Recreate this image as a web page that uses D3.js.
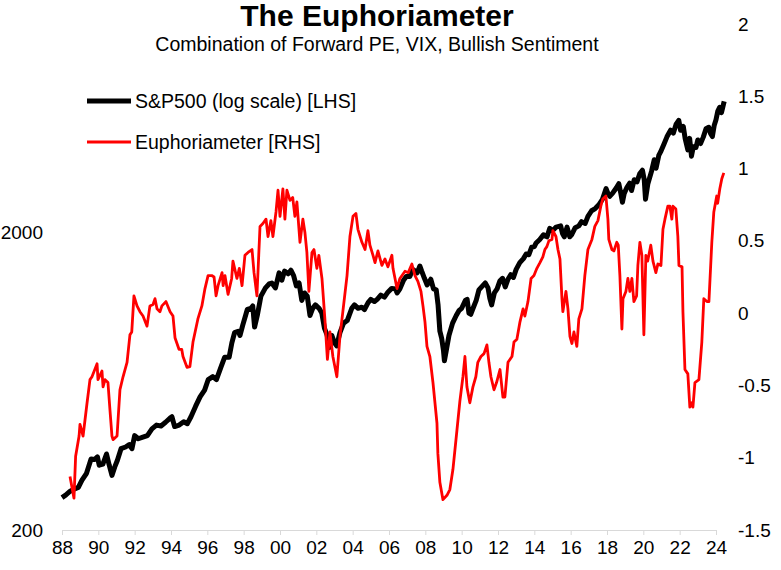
<!DOCTYPE html>
<meta charset="utf-8">
<style>
body { margin: 0; background: #fff; }
svg { font-family: "Liberation Sans", Arial, sans-serif; }
.axis text { font-size: 19px; fill: #000; }
</style>
<svg width="781" height="570"></svg>
<script src="https://cdn.jsdelivr.net/npm/d3@7"></script>
<script>
// S&P500 monthly-ish levels, [year, level] (left, log)
var spx = [
  [1988.0,257],[1988.2,262],[1988.45,270],[1988.7,275],[1988.9,278],[1989.1,294],[1989.35,310],[1989.6,346],
  [1989.8,345],[1989.95,352],[1990.05,330],[1990.25,333],[1990.45,360],[1990.6,330],[1990.75,305],[1990.9,325],
  [1991.05,343],[1991.25,375],[1991.5,380],[1991.7,387],[1991.85,375],[1992.0,415],[1992.2,405],[1992.45,410],
  [1992.7,415],[1992.95,437],[1993.2,450],[1993.45,447],[1993.7,460],[1993.95,475],[1994.05,480],[1994.2,445],
  [1994.45,450],[1994.7,462],[1994.9,455],[1995.1,480],[1995.35,520],[1995.6,560],[1995.85,590],[1996.05,640],
  [1996.3,655],[1996.5,640],[1996.75,705],[1996.95,760],[1997.2,760],[1997.35,850],[1997.5,920],[1997.7,930],
  [1997.8,900],[1997.95,975],[1998.2,1100],[1998.4,1110],[1998.5,1130],[1998.6,960],[1998.75,1050],[1998.95,1220],
  [1999.2,1300],[1999.4,1340],[1999.55,1350],[1999.75,1300],[1999.95,1460],[2000.1,1380],[2000.25,1480],[2000.45,1450],
  [2000.6,1490],[2000.75,1430],[2000.9,1320],[2001.05,1350],[2001.2,1180],[2001.35,1250],[2001.5,1220],[2001.65,1050],
  [2001.8,1110],[2001.95,1140],[2002.15,1110],[2002.3,1070],[2002.45,950],[2002.6,900],[2002.72,820],[2002.85,900],
  [2003.0,850],[2003.12,830],[2003.3,920],[2003.5,990],[2003.7,1010],[2003.95,1110],[2004.1,1140],[2004.3,1110],
  [2004.5,1120],[2004.65,1100],[2004.85,1160],[2005.0,1190],[2005.2,1170],[2005.35,1190],[2005.55,1230],[2005.75,1210],
  [2005.95,1260],[2006.15,1295],[2006.35,1290],[2006.45,1250],[2006.6,1290],[2006.8,1380],[2006.95,1420],[2007.15,1420],
  [2007.3,1500],[2007.45,1480],[2007.55,1460],[2007.7,1540],[2007.8,1480],[2007.95,1400],[2008.1,1330],[2008.3,1390],
  [2008.45,1290],[2008.6,1280],[2008.7,1140],[2008.8,930],[2008.9,880],[2009.0,800],[2009.05,740],[2009.15,800],
  [2009.3,900],[2009.5,990],[2009.7,1050],[2009.85,1090],[2010.0,1110],[2010.2,1180],[2010.3,1190],[2010.4,1070],
  [2010.5,1060],[2010.6,1100],[2010.8,1180],[2010.95,1280],[2011.15,1320],[2011.3,1350],[2011.45,1300],[2011.55,1200],
  [2011.65,1140],[2011.8,1250],[2011.95,1290],[2012.1,1370],[2012.25,1400],[2012.4,1310],[2012.55,1390],[2012.7,1440],
  [2012.85,1410],[2013.0,1500],[2013.2,1580],[2013.4,1630],[2013.55,1690],[2013.7,1680],[2013.85,1780],[2014.0,1790],
  [2014.1,1840],[2014.3,1890],[2014.5,1960],[2014.7,1930],[2014.85,2060],[2015.0,2020],[2015.2,2080],[2015.45,2100],
  [2015.55,1980],[2015.65,1930],[2015.8,2080],[2015.95,1930],[2016.05,1960],[2016.25,2070],[2016.45,2100],[2016.6,2170],
  [2016.8,2140],[2016.95,2260],[2017.15,2360],[2017.35,2400],[2017.55,2470],[2017.75,2580],[2017.95,2800],[2018.05,2700],
  [2018.15,2640],[2018.3,2700],[2018.5,2810],[2018.65,2910],[2018.75,2720],[2018.85,2520],[2018.95,2700],[2019.1,2830],
  [2019.25,2920],[2019.35,2760],[2019.5,3000],[2019.65,2950],[2019.8,3140],[2019.95,3230],[2020.05,3000],[2020.12,2580],
  [2020.25,2910],[2020.45,3200],[2020.6,3500],[2020.7,3280],[2020.85,3620],[2020.95,3720],[2021.15,3970],[2021.3,4180],
  [2021.5,4400],[2021.65,4300],[2021.8,4600],[2021.95,4750],[2022.05,4400],[2022.2,4530],[2022.3,4130],[2022.45,3780],
  [2022.55,4130],[2022.65,3600],[2022.75,3870],[2022.9,3850],[2023.0,4080],[2023.15,3970],[2023.3,4170],[2023.45,4450],
  [2023.6,4500],[2023.7,4290],[2023.8,4190],[2023.9,4560],[2024.0,4770],[2024.1,5100],[2024.2,5250],[2024.3,5040],
  [2024.38,5280],[2024.45,5500]
];

// Euphoriameter, [year, value] (right)
var euph = [
  [1988.44,-1.13],[1988.66,-1.28],[1988.75,-0.99],[1988.94,-0.85],[1988.99,-0.77],[1989.16,-0.85],[1989.38,-0.62],
  [1989.54,-0.46],[1989.65,-0.44],[1989.93,-0.35],[1989.98,-0.46],[1990.2,-0.40],[1990.26,-0.51],[1990.37,-0.46],
  [1990.53,-0.48],[1990.64,-0.67],[1990.75,-0.85],[1990.81,-0.875],[1991.03,-0.85],[1991.19,-0.53],[1991.36,-0.44],
  [1991.58,-0.34],[1991.74,-0.15],[1991.84,-0.13],[1991.96,0.12],[1992.13,0.05],[1992.29,0.01],[1992.46,-0.02],
  [1992.68,-0.09],[1992.84,0.05],[1993.01,0.06],[1993.12,0.10],[1993.23,0.03],[1993.39,0.01],[1993.5,0.05],
  [1993.72,0.08],[1993.95,0.01],[1994.11,-0.02],[1994.22,-0.17],[1994.44,-0.25],[1994.59,-0.25],[1994.66,-0.30],
  [1994.88,-0.375],[1995.04,-0.37],[1995.21,-0.20],[1995.48,-0.04],[1995.7,0.05],[1995.87,0.17],[1996.04,0.26],
  [1996.24,0.26],[1996.37,0.25],[1996.48,0.12],[1996.59,0.19],[1996.81,0.28],[1996.87,0.19],[1996.97,0.26],
  [1997.14,0.13],[1997.34,0.24],[1997.41,0.36],[1997.63,0.24],[1997.76,0.31],[1997.91,0.19],[1998.07,0.40],
  [1998.24,0.42],[1998.46,0.44],[1998.57,0.28],[1998.73,0.12],[1998.9,0.60],[1999.06,0.62],[1999.23,0.65],
  [1999.34,0.53],[1999.5,0.64],[1999.61,0.53],[1999.78,0.70],[1999.89,0.85],[2000.0,0.67],[2000.16,0.86],
  [2000.27,0.65],[2000.38,0.85],[2000.55,0.78],[2000.7,0.80],[2000.82,0.67],[2000.93,0.77],[2001.1,0.49],
  [2001.26,0.65],[2001.37,0.56],[2001.48,0.42],[2001.59,0.15],[2001.76,0.42],[2001.87,0.44],[2002.03,0.31],
  [2002.14,0.40],[2002.31,0.24],[2002.47,-0.04],[2002.61,-0.32],[2002.75,-0.13],[2002.91,-0.30],[2003.13,-0.44],
  [2003.3,-0.16],[2003.46,0.01],[2003.69,0.26],[2003.85,0.53],[2004.02,0.67],[2004.18,0.69],[2004.29,0.58],
  [2004.51,0.49],[2004.68,0.44],[2004.84,0.57],[2004.95,0.47],[2005.12,0.40],[2005.23,0.35],[2005.39,0.43],
  [2005.61,0.33],[2005.78,0.375],[2005.94,0.32],[2006.16,0.40],[2006.22,0.31],[2006.44,0.17],[2006.6,0.24],
  [2006.88,0.29],[2007.06,0.28],[2007.26,0.34],[2007.43,0.26],[2007.59,0.22],[2007.76,0.15],[2007.87,0.05],
  [2007.98,-0.06],[2008.09,-0.23],[2008.25,-0.30],[2008.42,-0.48],[2008.64,-0.76],[2008.69,-0.97],[2008.8,-1.17],
  [2008.97,-1.29],[2009.19,-1.26],[2009.35,-1.22],[2009.52,-1.08],[2009.74,-0.81],[2009.9,-0.61],[2010.07,-0.44],
  [2010.18,-0.30],[2010.29,-0.51],[2010.45,-0.62],[2010.62,-0.51],[2010.78,-0.44],[2010.89,-0.34],[2011.06,-0.30],
  [2011.23,-0.28],[2011.39,-0.22],[2011.5,-0.34],[2011.61,-0.44],[2011.78,-0.53],[2011.92,-0.48],[2012.11,-0.39],
  [2012.27,-0.58],[2012.38,-0.58],[2012.55,-0.34],[2012.77,-0.30],[2012.88,-0.20],[2013.04,-0.18],[2013.21,-0.06],
  [2013.38,0.03],[2013.48,-0.02],[2013.65,0.08],[2013.82,0.24],[2013.98,0.26],[2014.14,0.31],[2014.31,0.35],
  [2014.47,0.39],[2014.58,0.44],[2014.69,0.46],[2014.8,0.50],[2014.97,0.51],[2015.02,0.57],[2015.19,0.53],
  [2015.3,0.44],[2015.41,0.375],[2015.52,0.10],[2015.57,0.01],[2015.74,0.15],[2015.85,0.03],[2015.96,-0.16],
  [2016.07,-0.21],[2016.18,-0.13],[2016.34,-0.23],[2016.45,-0.04],[2016.62,0.03],[2016.78,0.26],[2016.95,0.44],
  [2017.17,0.51],[2017.33,0.60],[2017.5,0.64],[2017.66,0.74],[2017.77,0.79],[2017.94,0.81],[2018.05,0.65],
  [2018.1,0.51],[2018.27,0.44],[2018.38,0.43],[2018.54,0.49],[2018.62,0.47],[2018.71,0.26],[2018.82,-0.11],
  [2018.88,0.10],[2019.04,0.15],[2019.15,0.24],[2019.26,0.15],[2019.37,0.24],[2019.48,0.08],[2019.63,0.12],
  [2019.7,0.33],[2019.81,0.49],[2019.92,0.40],[2020.03,-0.15],[2020.14,0.40],[2020.24,0.36],[2020.41,0.47],
  [2020.53,0.36],[2020.69,0.28],[2020.8,0.34],[2020.97,0.33],[2021.08,0.58],[2021.19,0.65],[2021.35,0.74],
  [2021.46,0.74],[2021.57,0.65],[2021.63,0.74],[2021.79,0.72],[2021.9,0.53],[2021.96,0.33],[2022.13,0.32],
  [2022.18,0.01],[2022.29,-0.39],[2022.45,-0.42],[2022.56,-0.65],[2022.67,-0.62],[2022.73,-0.65],[2022.84,-0.48],
  [2022.95,-0.47],[2023.06,-0.46],[2023.22,-0.20],[2023.33,0.10],[2023.5,0.08],[2023.61,0.08],[2023.77,0.49],
  [2023.88,0.70],[2024.04,0.81],[2024.09,0.76],[2024.21,0.86],[2024.32,0.93],[2024.43,0.97]
];

var xTicks = d3.range(1988, 2025, 2);
var leftTicks = [200, 2000];
var rightTicks = [-1.5, -1, -0.5, 0, 0.5, 1, 1.5, 2];
var seriesNames = ["S&P500 (log scale) [LHS]", "Euphoriameter [RHS]"];

var svg = d3.select("svg");

var x = d3.scaleLinear().domain([1988, 2024]).range([62, 716]);
var yL = d3.scaleLog().domain([200, 10000]).range([530, 24]);
var yR = d3.scaleLinear().domain([-1.5, 2]).range([530, 24]);

// title
svg.append("text").attr("x", 377).attr("y", 26).attr("text-anchor", "middle")
    .style("font-size", "30px").style("font-weight", "bold").text("The Euphoriameter");
svg.append("text").attr("x", 377).attr("y", 51).attr("text-anchor", "middle")
    .style("font-size", "19.5px").text("Combination of Forward PE, VIX, Bullish Sentiment");

// x axis
var gx = svg.append("g").attr("class", "axis").attr("transform", "translate(0,530)")
    .call(d3.axisBottom(x).tickValues(xTicks).tickSize(5).tickSizeOuter(0).tickPadding(6)
      .tickFormat(function(d) { return String(d % 100).padStart(2, "0"); }));
gx.selectAll("line, path").attr("stroke", "#d9d9d9");

// left axis
var gl = svg.append("g").attr("class", "axis").attr("transform", "translate(43,0)")
    .call(d3.axisLeft(yL).tickValues(leftTicks).tickSize(0).tickPadding(0).tickFormat(d3.format("d")));
gl.select(".domain").remove();

// right axis
var gr = svg.append("g").attr("class", "axis").attr("transform", "translate(738,0)")
    .call(d3.axisRight(yR).tickValues(rightTicks).tickSize(0).tickPadding(0).tickFormat(function(d) { return String(d); }));
gr.select(".domain").remove();

var lineL = d3.line().x(function(d) { return x(d[0]); }).y(function(d) { return yL(d[1]); });
var lineR = d3.line().x(function(d) { return x(d[0]); }).y(function(d) { return yR(d[1]); });

svg.append("path").datum(spx).attr("d", lineL)
    .attr("fill", "none").attr("stroke", "#000").attr("stroke-width", 5).attr("stroke-linejoin", "round");
svg.append("path").datum(euph).attr("d", lineR)
    .attr("fill", "none").attr("stroke", "#ff0000").attr("stroke-width", 2.8).attr("stroke-linejoin", "round");

// legend
var legend = svg.append("g");
[["#000", 5, 101], ["#ff0000", 3, 142]].forEach(function(s, i) {
  legend.append("line").attr("x1", 87).attr("x2", 131).attr("y1", s[2]).attr("y2", s[2])
      .attr("stroke", s[0]).attr("stroke-width", s[1]);
  legend.append("text").attr("x", 135).attr("y", s[2] + 7).style("font-size", "19.5px").text(seriesNames[i]);
});
</script>
